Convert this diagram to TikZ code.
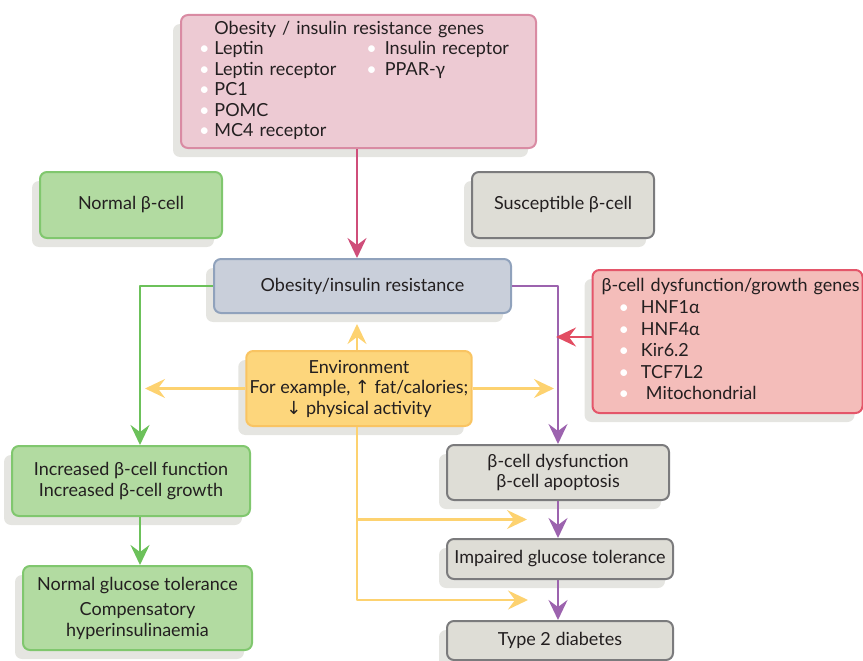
\documentclass[tikz,border=0pt]{standalone}
\usepackage{fontspec}
\usepackage{xcolor}
\setmainfont{Lato}
\newfontfamily\arrowfont{DejaVu Sans}
\usetikzlibrary{arrows.meta, shadows, calc}
\definecolor{textdark}{RGB}{35, 31, 32}
\definecolor{shadowgray}{RGB}{229, 229, 225}
\definecolor{pinkfill}{RGB}{237, 202, 211}
\definecolor{pinkline}{RGB}{217, 139, 163}
\definecolor{pinkarrow}{RGB}{207, 78, 122}
\definecolor{greenfill}{RGB}{178, 219, 161}
\definecolor{greenline}{RGB}{128, 199, 110}
\definecolor{greenarrow}{RGB}{108, 193, 90}
\definecolor{grayfill}{RGB}{222, 221, 214}
\definecolor{grayline}{RGB}{123, 123, 125}
\definecolor{bluefill}{RGB}{201, 207, 218}
\definecolor{blueline}{RGB}{144, 162, 188}
\definecolor{redfill}{RGB}{244, 189, 186}
\definecolor{redline}{RGB}{228, 86, 106}
\definecolor{redarrow}{RGB}{226, 77, 98}
\definecolor{yellowfill}{RGB}{253, 214, 124}
\definecolor{yellowline}{RGB}{249, 196, 98}
\definecolor{yellowarrow}{RGB}{253, 210, 112}
\definecolor{purplearrow}{RGB}{156, 99, 174}
\newcommand{\wdot}{\textcolor{white}{\textbullet}}

\begin{document}
\begin{tikzpicture}[
    x=1pt, y=-1pt,
    font=\fontsize{18}{20.5}\selectfont, text=textdark,
    box/.style={rectangle, rounded corners=7pt, line width=2pt, align=center,
        drop shadow={shadow xshift=-8pt, shadow yshift=-9pt, fill=shadowgray, opacity=1}},
    greenbox/.style={box, draw=greenline, fill=greenfill},
    graybox/.style={box, draw=grayline, fill=grayfill},
    pinkbox/.style={box, draw=pinkline, fill=pinkfill},
    bluebox/.style={box, draw=blueline, fill=bluefill},
    redbox/.style={box, draw=redline, fill=redfill},
    yellowbox/.style={box, draw=yellowline, fill=yellowfill},
    arr/.style={line width=2.2pt, line join=round, -{Stealth[length=20pt, width=19pt, inset=7pt]}}
]
    \useasboundingbox (0,0) rectangle (863,661);

    % gene boxes
    \node[pinkbox, minimum width=355, minimum height=133, text width=319, inner xsep=18, align=left] (obgenes) at (358.5,81.5) {%
        \begin{tabular}{@{}l@{\hspace{5pt}}l@{\hspace{30pt}}l@{\hspace{8pt}}l@{}}
            & \multicolumn{3}{@{}l}{Obesity / insulin resistance genes}\\
            \wdot & Leptin & \wdot & Insulin receptor\\
            \wdot & Leptin receptor & \wdot & PPAR-γ\\
            \wdot & PC1 & & \\
            \wdot & POMC & & \\
            \wdot & MC4 receptor & &
        \end{tabular}};
    \node[redbox, minimum width=270, minimum height=143, text width=252, inner xsep=9, align=left] (bgenes) at (727.5,341.5) {%
        \renewcommand{\arraystretch}{1.05}%
        \begin{tabular}{@{}l@{}}
            β-cell dysfunction/growth genes\\
            \hspace{17pt}\wdot\hspace{12pt}HNF1α\\
            \hspace{17pt}\wdot\hspace{12pt}HNF4α\\
            \hspace{17pt}\wdot\hspace{12pt}Kir6.2\\
            \hspace{17pt}\wdot\hspace{12pt}TCF7L2\\
            \hspace{17pt}\wdot\hspace{17pt}Mitochondrial
        \end{tabular}};

    % cell types
    \node[greenbox, minimum width=182, minimum height=66] (normal) at (131,205) {Normal β-cell};
    \node[graybox, minimum width=182, minimum height=66] (suscept) at (563,205) {Susceptible β-cell};

    \node[bluebox, minimum width=297, minimum height=54] (obesity) at (362.5,286) {Obesity/insulin resistance};
    \node[yellowbox, minimum width=224, minimum height=75] (env) at (359,388.5) {Environment\\For example, {\arrowfont↑} fat/calories;\\{\arrowfont↓} physical activity};

    % outcomes
    \node[greenbox, minimum width=238, minimum height=70] (increased) at (131,481) {Increased β-cell function\\Increased β-cell growth};
    \node[greenbox, minimum width=229, minimum height=84] (normglu) at (137.5,608) {Normal glucose tolerance\\[5pt]Compensatory\\hyperinsulinaemia};
    \node[graybox, minimum width=222, minimum height=55] (dysf) at (558,472.5) {β-cell dysfunction\\β-cell apoptosis};
    \node[graybox, minimum width=226, minimum height=40] (igt) at (560,559) {Impaired glucose tolerance};
    \node[graybox, minimum width=226, minimum height=39] (t2d) at (560,640.5) {Type 2 diabetes};

    \coordinate (gx) at (140,0);
    \coordinate (m1) at ($(dysf.south)!0.5!(igt.north)$);
    \coordinate (m2) at ($(igt.south)!0.5!(t2d.north)$);

    \draw[arr, pinkarrow] (obgenes.south -| 357,0) -- (obesity.north -| 357,0);
    \draw[arr, greenarrow] (obesity.west) -| (gx |- increased.north);
    \draw[arr, greenarrow] (gx |- increased.south) -- (gx |- normglu.north);
    \draw[arr, purplearrow] (obesity.east) -| (dysf.north);
    \draw[arr, purplearrow] (dysf.south) -- (dysf.south |- igt.north);
    \draw[arr, purplearrow] (dysf.south |- igt.south) -- (dysf.south |- t2d.north);
    \draw[arr, redarrow, shorten >=-2pt] (bgenes.west |- 0,337) -- (dysf.north |- 0,337);

    \draw[arr, yellowarrow, shorten >=10pt] (env.north -| 357,0) -- (obesity.south -| 357,0);
    \draw[arr, yellowarrow, shorten >=5pt] (env.west) -- (env.west -| gx);
    \draw[arr, yellowarrow, shorten >=4pt] (env.east) -- (env.east -| dysf.north);
    \draw[arr, yellowarrow, shorten >=32pt] (env.south -| 357,0) |- (m2);
    \draw[arr, yellowarrow, shorten >=32pt] (m1 -| 357,0) -- (m1);
\end{tikzpicture}
\end{document}
